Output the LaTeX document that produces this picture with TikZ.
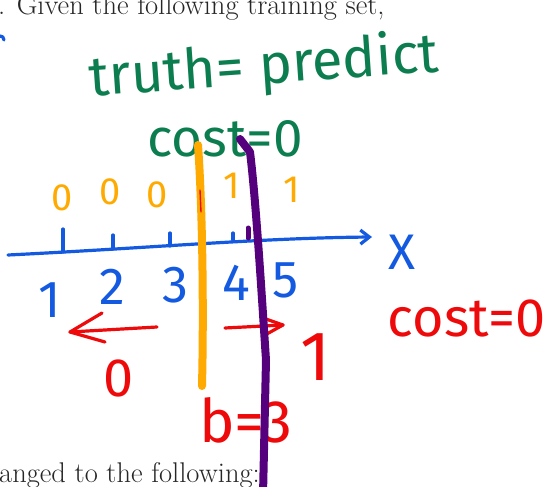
\documentclass[tikz,border=0pt]{standalone}
\usepackage{fontspec}
\usepackage{xcolor}
\usetikzlibrary{arrows.meta,calc}
\newfontfamily\handfont{Fira Sans}
\definecolor{inkgreen}{RGB}{12,125,78}
\definecolor{inkorange}{RGB}{255,170,0}
\definecolor{inkblue}{RGB}{20,90,225}
\definecolor{inkred}{RGB}{238,10,10}
\definecolor{inkpurple}{RGB}{85,0,125}

\begin{document}
\begin{tikzpicture}[
  x=1pt, y=-1pt,
  every node/.style={inner sep=0pt},
  print/.style={font=\fontsize{28.5}{32}\selectfont, anchor=base west, text=black!85},
  hand/.style={font=\handfont\fontsize{#1}{#1}\selectfont},
  pen/.style={line width=3.2pt, line cap=round, line join=round},
  marker/.style={line width=8pt, line cap=round, line join=round}
]
  \useasboundingbox[fill=white] (0,0) rectangle (555,487);

  % printed page text
  \node[print] (given) at (-2,15) {. Given the following training set,};
  \node[print] (changed) at (-1,482) {anged to the following:};

  % green notes
  \node[hand=56, text=inkgreen, rotate=4] (truth) at (264,68) {truth= predict};
  \node[hand=53, text=inkgreen] (costtop) at (225,139) {cost=0};

  % labels above the axis
  \node[hand=38, text=inkorange] (y1) at (62,198) {0};
  \node[hand=38, text=inkorange] (y2) at (110,192) {0};
  \node[hand=38, text=inkorange] (y3) at (157,195) {0};
  \node[hand=38, text=inkorange] (y4) at (232,186) {1};
  \node[hand=38, text=inkorange] (y5) at (292,190) {1};

  % x axis
  \coordinate (ax0) at (8,255);
  \coordinate (ax1) at (372,237);
  \draw[pen, inkblue, -{Straight Barb[length=9pt, width=14pt]}] (ax0) .. controls (150,248) and (260,238) .. (ax1);
  \foreach \tx/\ty/\tl in {63/229/23, 113/235/14, 170/233/13, 233/233/7, 248/230/8}
    \draw[pen, inkblue] (\tx,\ty) -- ++(0,\tl);
  \node[hand=50, text=inkblue] (xlab) at (402,252) {X};
  \node[hand=52, text=inkblue] (x1) at (50,300) {1};
  \node[hand=52, text=inkblue] (x2) at (112,287) {2};
  \node[hand=52, text=inkblue] (x3) at (175,285) {3};
  \node[hand=52, text=inkblue] (x4) at (236,283) {4};
  \node[hand=52, text=inkblue] (x5) at (286,280) {5};
  \draw[pen, inkblue] (0,36) .. controls (2,36) and (4,37) .. (4,40);

  % red notes
  \coordinate (la0) at (157,327);
  \coordinate (la1) at (70,332);
  \draw[pen, inkred] (la0) -- (la1);
  \draw[pen, inkred] (102,313) -- (la1) -- (105,342);
  \coordinate (ra0) at (225,328);
  \coordinate (ra1) at (283,325);
  \draw[pen, inkred] (ra0) -- (ra1);
  \draw[pen, inkred] (263,318) -- (ra1) -- (265,335);
  \node[hand=54, text=inkred] (left) at (119,378) {0};
  \node[hand=70, text=inkred] (right) at (316,357) {1};
  \node[hand=54, text=inkred] (costright) at (467,318) {cost=0};
  \node[hand=60, text=inkred] (bval) at (246,420) {b=3};

  % boundaries
  \draw[marker, inkorange] (198,145) .. controls (202,200) and (204,300) .. (202,386);
  \draw[line width=1.4pt, inkred, line cap=round] (200,190) -- (201,212);
  \draw[marker, inkpurple] (240,139) -- (250,152) .. controls (256,200) and (262,300) .. (266,360) -- (263,495);
  \draw[line width=5pt, inkpurple, line cap=round] (248,228) -- (248,238);
\end{tikzpicture}
\end{document}
